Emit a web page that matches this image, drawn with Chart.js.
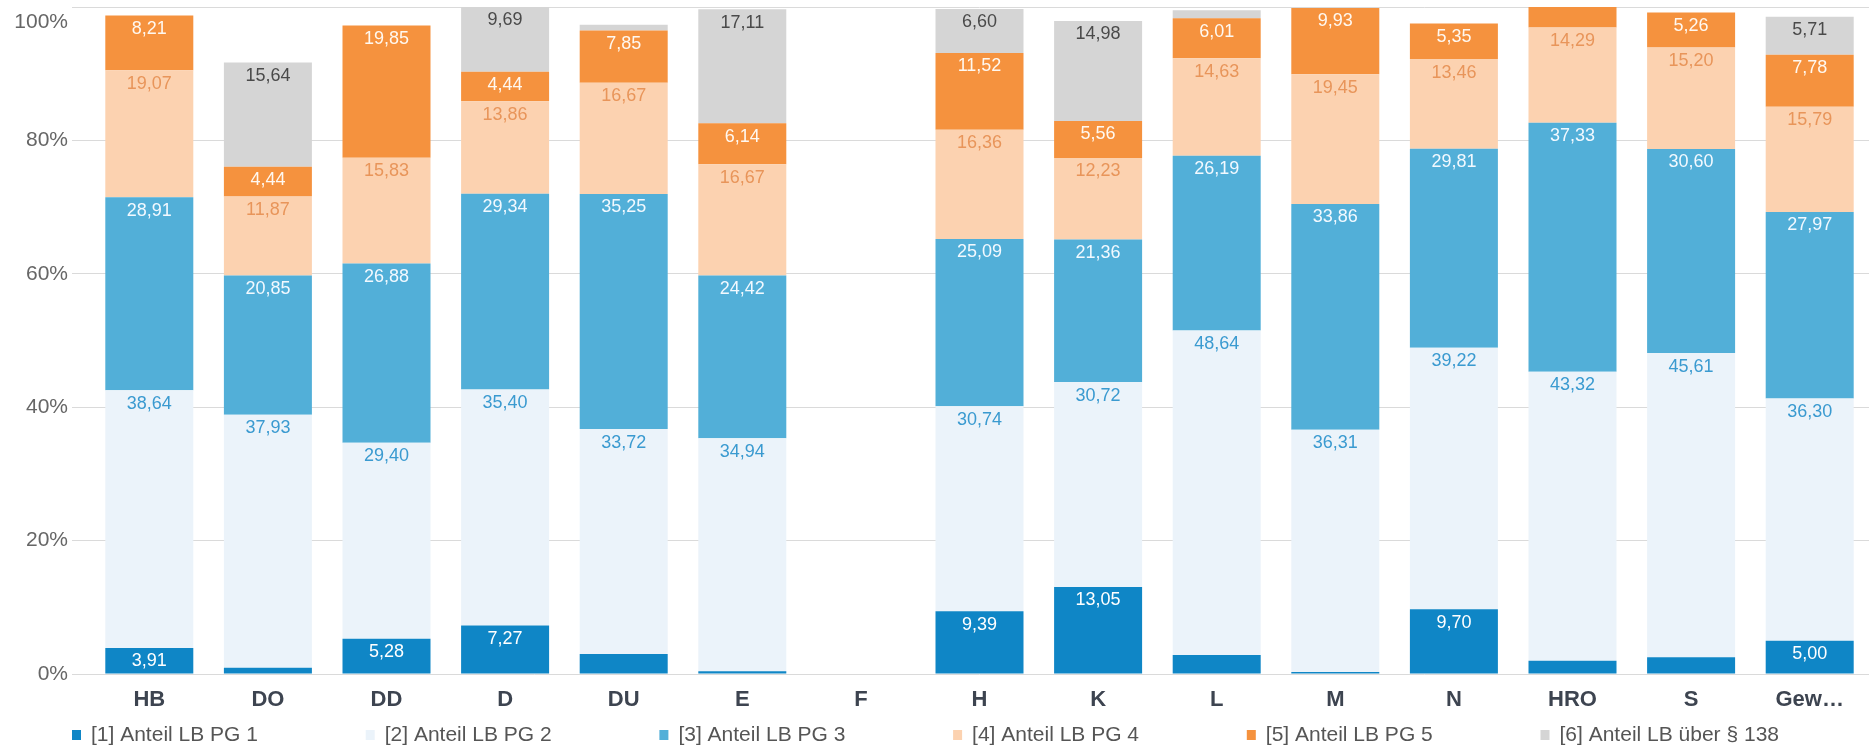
<!DOCTYPE html>
<html>
<head>
<meta charset="utf-8">
<title>Anteil LB nach Pflegegrad</title>
<script src="https://cdn.jsdelivr.net/npm/chart.js@4.4.1/dist/chart.umd.min.js"></script>
<style>
    html, body { margin: 0; padding: 0; background: #fff; }
    #wrap { width: 1869px; height: 756px; position: relative; }
</style>
</head>
<body>
<div id="wrap"><canvas id="pgChart"></canvas></div>
<script>
// Kategorien (Standorte)
const categories = ['HB', 'DO', 'DD', 'D', 'DU', 'E', 'F', 'H', 'K', 'L', 'M', 'N', 'HRO', 'S', 'Gew…'];

// Anteile in Prozent je Pflegegrad (kleine Werte ohne Beschriftung geschätzt)
const pg1 = [3.91, 0.95, 5.28, 7.27, 3.0, 0.4, null, 9.39, 13.05, 2.85, 0.3, 9.70, 2.0, 2.5, 5.00];
const pg2 = [38.64, 37.93, 29.40, 35.40, 33.72, 34.94, null, 30.74, 30.72, 48.64, 36.31, 39.22, 43.32, 45.61, 36.30];
const pg3 = [28.91, 20.85, 26.88, 29.34, 35.25, 24.42, null, 25.09, 21.36, 26.19, 33.86, 29.81, 37.33, 30.60, 27.97];
const pg4 = [19.07, 11.87, 15.83, 13.86, 16.67, 16.67, null, 16.36, 12.23, 14.63, 19.45, 13.46, 14.29, 15.20, 15.79];
const pg5 = [8.21, 4.44, 19.85, 4.44, 7.85, 6.14, null, 11.52, 5.56, 6.01, 9.93, 5.35, 3.06, 5.26, 7.78];
const pg6 = [0, 15.64, 0, 9.69, 0.85, 17.11, null, 6.60, 14.98, 1.2, 0, 0, 0, 0, 5.71];

const seriesNames = ['[1] Anteil LB PG 1', '[2] Anteil LB PG 2', '[3] Anteil LB PG 3',
                     '[4] Anteil LB PG 4', '[5] Anteil LB PG 5', '[6] Anteil LB über § 138'];

// Y-Achse
const yTicks = [0, 20, 40, 60, 80, 100];

const fillColors = ['#0f86c6', '#ebf3fa', '#52afd8', '#fcd2b0', '#f5923e', '#d5d5d5'];
const labelColors = ['#ffffff', '#3a9ad0', '#f2f9ff', '#e8955a', '#fff8f0', '#4a4a4a'];

const FONT = '"Liberation Sans", Arial, sans-serif';

// Werte-Beschriftung in den Segmenten
const segmentLabels = {
    id: 'segmentLabels',
    afterDatasetsDraw(chart) {
        const ctx = chart.ctx;
        ctx.save();
        ctx.font = '18px ' + FONT;
        ctx.textAlign = 'center';
        ctx.textBaseline = 'middle';
        chart.data.datasets.forEach((ds, di) => {
            const meta = chart.getDatasetMeta(di);
            meta.data.forEach((bar, i) => {
                const v = ds.data[i];
                if (v == null || v < 3.5) return;
                const top = Math.min(bar.y, bar.base);
                const h = Math.abs(bar.base - bar.y);
                const y = h >= 27 ? top + 13.5 : top + h / 2;
                ctx.fillStyle = labelColors[di];
                ctx.fillText(v.toFixed(2).replace('.', ','), bar.x, y);
            });
        });
        ctx.restore();
    }
};

// Legende in festen Spalten unter dem Diagramm
const columnLegend = {
    id: 'columnLegend',
    afterDraw(chart) {
        const ctx = chart.ctx;
        ctx.save();
        ctx.font = '21px ' + FONT;
        ctx.textBaseline = 'middle';
        ctx.textAlign = 'left';
        seriesNames.forEach((name, i) => {
            const x = 72 + i * 293.7;
            const y = 735;
            ctx.fillStyle = fillColors[i];
            ctx.fillRect(x, y - 5, 9, 10);
            ctx.fillStyle = '#555555';
            ctx.fillText(name, x + 19, y);
        });
        ctx.restore();
    }
};

// 100%-Beschriftung etwas nach unten schieben (wie im Original)
const topTickShift = {
    id: 'topTickShift',
    beforeDraw(chart) {
        const items = chart.scales.y.getLabelItems();
        items.forEach(item => {
            if (item.label === '100%') {
                item.options.translation[1] = chart.chartArea.top + 15;
            }
        });
    }
};

const datasets = [pg1, pg2, pg3, pg4, pg5, pg6].map((values, i) => ({
    label: seriesNames[i],
    data: values,
    backgroundColor: fillColors[i],
    borderWidth: 0,
    categoryPercentage: 1.0,
    barPercentage: 0.742
}));

new Chart(document.getElementById('pgChart'), {
    type: 'bar',
    data: {
        labels: categories,
        datasets: datasets
    },
    options: {
        responsive: true,
        maintainAspectRatio: false,
        animation: false,
        layout: {
            padding: { top: 7, right: 0, bottom: 40, left: 0 }
        },
        plugins: {
            legend: { display: false },
            tooltip: { enabled: false }
        },
        scales: {
            x: {
                stacked: true,
                grid: { display: false },
                border: { display: false },
                ticks: {
                    padding: 5,
                    color: '#3d4450',
                    font: { family: FONT, size: 22, weight: 'bold' }
                },
                afterFit(scale) {
                    scale.height = 42;
                }
            },
            y: {
                stacked: true,
                min: 0,
                max: 100,
                afterBuildTicks(scale) {
                    scale.ticks = yTicks.map(v => ({ value: v }));
                },
                grid: {
                    color: '#dadada',
                    lineWidth: 1,
                    tickLength: 18,
                    tickColor: '#dadada'
                },
                border: { display: false },
                ticks: {
                    padding: 4,
                    color: '#666666',
                    font: { family: FONT, size: 21 },
                    callback: v => v + '%'
                },
                afterFit(scale) {
                    scale.width = 90;
                    scale.paddingTop = 0;
                    scale.paddingBottom = 0;
                }
            }
        }
    },
    plugins: [segmentLabels, columnLegend, topTickShift]
});
</script>
</body>
</html>
